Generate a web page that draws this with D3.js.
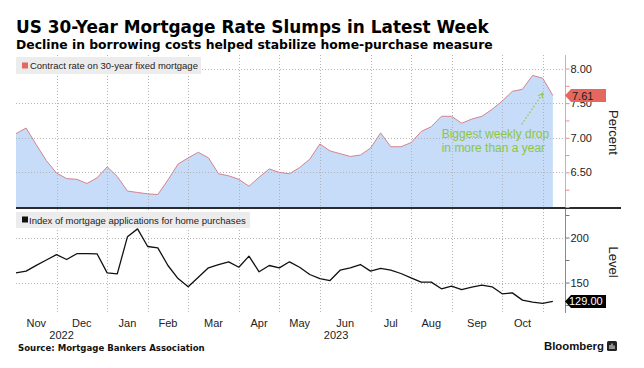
<!DOCTYPE html>
<html>
<head>
<meta charset="utf-8">
<script src="https://cdn.jsdelivr.net/npm/d3@7"></script>
<style>
  body { margin: 0; background: #fff; }
  svg { display: block; }
</style>
</head>
<body>
<div id="wrapper"></div>
<script>
// weekly MBA data, week ending Friday
const firstWeek = new Date(2022, 9, 28);
const afterLastWeek = new Date(2023, 10, 4);

const contractRate = [
  7.06, 7.14, 6.90, 6.67, 6.49, 6.41, 6.40, 6.34, 6.42, 6.58,
  6.44, 6.23, 6.21, 6.19, 6.18, 6.39, 6.62, 6.71, 6.79, 6.71,
  6.48, 6.45, 6.40, 6.30, 6.43, 6.55, 6.50, 6.48, 6.57, 6.69,
  6.91, 6.81, 6.77, 6.73, 6.75, 6.85, 7.07, 6.87, 6.87, 6.93,
  7.09, 7.16, 7.31, 7.31, 7.21, 7.27, 7.31, 7.41, 7.53, 7.67,
  7.70, 7.90, 7.86, 7.61,
];

const purchaseIndex = [
  160.7, 162.6, 169.0, 175.0, 181.0, 175.6, 182.0, 182.0, 181.9, 160.7,
  159.6, 200.8, 209.6, 190.0, 188.5, 168.9, 154.4, 145.2, 155.9, 166.3,
  170.0, 173.0, 167.0, 179.3, 161.9, 168.9, 166.3, 173.0, 167.0, 158.9,
  154.4, 152.2, 163.7, 166.3, 170.0, 162.6, 165.6, 163.7, 160.0, 155.2,
  150.4, 150.4, 143.0, 145.9, 142.2, 144.8, 147.0, 145.2, 137.4, 138.5,
  130.4, 128.1, 126.7, 129.0,
];

const rateTicks = [6.0, 6.25, 6.5, 6.75, 7.0, 7.25, 7.5, 7.75, 8.0];
const rateLabels = [6.5, 7.0, 7.5, 8.0];
const indexTicks = [125, 150, 175, 200, 225];
const indexLabels = [150, 200];

const title = "US 30-Year Mortgage Rate Slumps in Latest Week";
const subtitle = "Decline in borrowing costs helped stabilize home-purchase measure";
const rateLegend = "Contract rate on 30-year fixed mortgage";
const indexLegend = "Index of mortgage applications for home purchases";
const source = "Source: Mortgage Bankers Association";
const noteLines = ["Biggest weekly drop", "in more than a year"];

function fitWidth(selection, targetWidth) {
  selection.each(function () {
    const node = d3.select(this);
    const size = parseFloat(node.style("font-size"));
    node.style("font-size", (size * targetWidth) / this.getComputedTextLength() + "px");
  });
}

function drawChart() {
  //* Step 1. Access data
  const weeks = d3.timeFriday.range(firstWeek, afterLastWeek);
  const dataset = weeks.map((date, i) => ({
    i,
    date,
    rate: contractRate[i],
    index: purchaseIndex[i],
  }));
  const xAccessor = (d) => d.i;
  const rateAccessor = (d) => d.rate;
  const indexAccessor = (d) => d.index;

  //* Step 2. Dimensions
  const dimensions = {
    width: 644,
    height: 368,
    left: 16,
    right: 565,
    top: { y0: 55, y1: 207 },
    bottom: { y0: 209, y1: 313 },
  };

  //* Step 3. Canvas
  const wrapper = d3
    .select("#wrapper")
    .append("svg")
    .attr("width", dimensions.width)
    .attr("height", dimensions.height)
    .style("font-family", "'Liberation Sans', Arial, sans-serif");

  //* Step 4. Scales
  const xScale = d3
    .scaleLinear()
    .domain([0, 54.2])
    .range([dimensions.left, dimensions.right]);

  const rateScale = d3
    .scaleLinear()
    .domain([6.0, 8.195])
    .range([dimensions.top.y1, dimensions.top.y0]);

  const indexScale = d3
    .scaleLinear()
    .domain([116.1, 231.7])
    .range([dimensions.bottom.y1, dimensions.bottom.y0]);

  // month boundaries: last week of each month
  const boundaries = dataset
    .filter((d, i) => i < dataset.length - 1 && d.date.getMonth() !== weeks[i + 1].getMonth())
    .map(xAccessor);

  //* Step 5. Top panel
  const areaGenerator = d3
    .area()
    .x((d) => xScale(xAccessor(d)))
    .y0(dimensions.top.y1)
    .y1((d) => rateScale(rateAccessor(d)));

  wrapper
    .append("path")
    .attr("d", areaGenerator(dataset))
    .attr("fill", "#c6dcf8");

  const grid = wrapper.append("g")
    .attr("stroke", "#b4b4b4")
    .attr("stroke-width", 1)
    .attr("stroke-dasharray", "1 2");

  grid.selectAll(".hgrid-top")
    .data(rateLabels)
    .join("line")
    .attr("x1", dimensions.left)
    .attr("x2", dimensions.right)
    .attr("y1", (d) => Math.round(rateScale(d)) + 0.5)
    .attr("y2", (d) => Math.round(rateScale(d)) + 0.5);

  grid.selectAll(".hgrid-bottom")
    .data(indexLabels)
    .join("line")
    .attr("x1", dimensions.left)
    .attr("x2", dimensions.right)
    .attr("y1", (d) => Math.round(indexScale(d)) + 0.5)
    .attr("y2", (d) => Math.round(indexScale(d)) + 0.5);

  const vgrid = boundaries.filter((b) => b > 0);
  grid.selectAll(".vgrid-top")
    .data(vgrid)
    .join("line")
    .attr("x1", (d) => Math.round(xScale(d)) + 0.5)
    .attr("x2", (d) => Math.round(xScale(d)) + 0.5)
    .attr("y1", dimensions.top.y0)
    .attr("y2", dimensions.top.y1);

  grid.selectAll(".vgrid-bottom")
    .data(vgrid)
    .join("line")
    .attr("x1", (d) => Math.round(xScale(d)) + 0.5)
    .attr("x2", (d) => Math.round(xScale(d)) + 0.5)
    .attr("y1", dimensions.bottom.y0)
    .attr("y2", dimensions.bottom.y1);

  const rateLine = d3
    .line()
    .x((d) => xScale(xAccessor(d)))
    .y((d) => rateScale(rateAccessor(d)));

  wrapper
    .append("path")
    .attr("d", rateLine(dataset))
    .attr("fill", "none")
    .attr("stroke", "#d4838e")
    .attr("stroke-width", 1);

  //* Step 6. Bottom panel
  const indexLine = d3
    .line()
    .x((d) => xScale(xAccessor(d)))
    .y((d) => indexScale(indexAccessor(d)));

  wrapper
    .append("path")
    .attr("d", indexLine(dataset))
    .attr("fill", "none")
    .attr("stroke", "#111")
    .attr("stroke-width", 1.3)
    .attr("stroke-linejoin", "round");

  // panel separator
  wrapper
    .append("rect")
    .attr("x", dimensions.left)
    .attr("y", dimensions.top.y1)
    .attr("width", 621 - dimensions.left)
    .attr("height", 2)
    .attr("fill", "#2b2b2b");

  //* Step 7. Legends
  wrapper.append("rect")
    .attr("x", dimensions.left).attr("y", 57)
    .attr("width", 185).attr("height", 17)
    .attr("fill", "#ececec");
  wrapper.append("rect")
    .attr("x", 22).attr("y", 62.5)
    .attr("width", 6).attr("height", 6)
    .attr("fill", "#e06a62");
  wrapper.append("text")
    .attr("x", 30).attr("y", 69)
    .attr("fill", "#222")
    .style("font-size", "9.5px")
    .text(rateLegend)
    .call(fitWidth, 168);

  wrapper.append("rect")
    .attr("x", dimensions.left).attr("y", 212)
    .attr("width", 234).attr("height", 16)
    .attr("fill", "#ececec");
  wrapper.append("rect")
    .attr("x", 22).attr("y", 216.5)
    .attr("width", 6).attr("height", 6)
    .attr("fill", "#111");
  wrapper.append("text")
    .attr("x", 29).attr("y", 223.5)
    .attr("fill", "#222")
    .style("font-size", "9.5px")
    .text(indexLegend)
    .call(fitWidth, 217);

  //* Step 8. Right axes
  const rateAxis = wrapper.append("g")
    .attr("transform", `translate(${dimensions.right + 0.5},0)`)
    .call(
      d3.axisRight(rateScale)
        .tickValues(rateTicks)
        .tickSize(4)
        .tickFormat((d) => (rateLabels.includes(d) ? d3.format(".2f")(d) : ""))
    );
  rateAxis.select(".domain")
    .attr("d", `M0,${dimensions.top.y0}V${dimensions.top.y1}`)
    .attr("stroke", "#eba3a3");
  rateAxis.selectAll(".tick line").attr("stroke", "#e58f8f");
  rateAxis.selectAll(".tick text")
    .attr("x", 5)
    .attr("fill", "#222")
    .style("font-size", "11px")
    .style("font-family", "'Liberation Sans', Arial, sans-serif");

  const indexAxis = wrapper.append("g")
    .attr("transform", `translate(${dimensions.right + 0.5},0)`)
    .call(
      d3.axisRight(indexScale)
        .tickValues(indexTicks)
        .tickSize(4)
        .tickFormat((d) => (indexLabels.includes(d) ? d : ""))
    );
  indexAxis.select(".domain")
    .attr("d", `M0,${dimensions.bottom.y0}V${dimensions.bottom.y1}`)
    .attr("stroke", "#8a8a8a");
  indexAxis.selectAll(".tick line").attr("stroke", "#777");
  indexAxis.selectAll(".tick text")
    .attr("x", 5)
    .attr("fill", "#222")
    .style("font-size", "11px")
    .style("font-family", "'Liberation Sans', Arial, sans-serif");

  wrapper.append("text")
    .attr("transform", `translate(609,${(rateScale(7.0) + rateScale(7.5)) / 2 + 12}) rotate(90)`)
    .attr("text-anchor", "middle")
    .attr("fill", "#222")
    .style("font-size", "13px")
    .text("Percent");

  wrapper.append("text")
    .attr("transform", `translate(609,${(indexScale(150) + indexScale(200)) / 2 + 2}) rotate(90)`)
    .attr("text-anchor", "middle")
    .attr("fill", "#222")
    .style("font-size", "13px")
    .text("Level");

  // last value tags
  const last = dataset[dataset.length - 1];
  const tagPath = (cy) =>
    `M${dimensions.right},${cy}L${dimensions.right + 6},${cy - 6.5}H606V${cy + 6.5}H${dimensions.right + 6}Z`;

  const rateY = rateScale(rateAccessor(last));
  wrapper.append("path").attr("d", tagPath(rateY)).attr("fill", "#e5685f");
  wrapper.append("text")
    .attr("x", 572).attr("y", rateY + 4)
    .attr("fill", "#1a1a1a")
    .style("font-size", "11px")
    .text(d3.format(".2f")(rateAccessor(last)));

  const indexY = indexScale(indexAccessor(last));
  wrapper.append("path").attr("d", tagPath(indexY)).attr("fill", "#000");
  wrapper.append("text")
    .attr("x", 569).attr("y", indexY + 4)
    .attr("fill", "#fff")
    .style("font-size", "11px")
    .text(d3.format(".2f")(indexAccessor(last)));

  //* Step 9. Annotation
  const green = "#8cc63f";
  wrapper.append("defs")
    .append("marker")
    .attr("id", "arrow")
    .attr("viewBox", "0 0 10 10")
    .attr("refX", 8).attr("refY", 5)
    .attr("markerWidth", 5).attr("markerHeight", 5)
    .attr("orient", "auto")
    .append("path")
    .attr("d", "M0,1L9,5L0,9")
    .attr("fill", "none")
    .attr("stroke", green)
    .attr("stroke-width", 1.5);

  const tipX = xScale(52);
  const tipY = rateScale(7.64);
  wrapper.append("line")
    .attr("x1", tipX - 21).attr("y1", tipY + 31)
    .attr("x2", tipX).attr("y2", tipY)
    .attr("stroke", green)
    .attr("stroke-width", 1.2)
    .attr("stroke-dasharray", "1.5 2")
    .attr("marker-end", "url(#arrow)");

  wrapper.append("g")
    .selectAll("text")
    .data(noteLines)
    .join("text")
    .attr("x", tipX - 101)
    .attr("y", (d, i) => tipY + 45 + i * 13.5)
    .attr("fill", green)
    .style("font-size", "12px")
    .text((d) => d);

  //* Step 10. Month & year labels
  const monthFormat = d3.timeFormat("%b");
  const months = d3.pairs(boundaries).map(([a, b]) => ({
    label: monthFormat(weeks[a + 1]),
    x: (xScale(a) + xScale(b)) / 2,
  }));
  wrapper.append("g")
    .selectAll("text")
    .data(months)
    .join("text")
    .attr("x", (d) => d.x)
    .attr("y", 327)
    .attr("text-anchor", "middle")
    .attr("fill", "#222")
    .style("font-size", "11px")
    .text((d) => d.label);

  const yearBreaks = boundaries
    .filter((b) => weeks[b + 1].getFullYear() !== weeks[b].getFullYear())
    .map((b) => xScale(b));
  const yearEdges = [dimensions.left, ...yearBreaks, dimensions.right];
  const years = Array.from(new Set(weeks.map((d) => d.getFullYear())));
  wrapper.append("g")
    .selectAll("text")
    .data(years)
    .join("text")
    .attr("x", (d, i) => (yearEdges[i] + yearEdges[i + 1]) / 2)
    .attr("y", 339)
    .attr("text-anchor", "middle")
    .attr("fill", "#222")
    .style("font-size", "11px")
    .text((d) => d);

  //* Step 11. Titles & footer
  wrapper.append("text")
    .attr("x", 16).attr("y", 33)
    .attr("fill", "#000")
    .style("font-family", "'DejaVu Sans', sans-serif")
    .style("font-weight", "bold")
    .style("font-size", "17px")
    .text(title)
    .call(fitWidth, 473);

  wrapper.append("text")
    .attr("x", 16).attr("y", 49)
    .attr("fill", "#000")
    .style("font-family", "'DejaVu Sans', sans-serif")
    .style("font-weight", "bold")
    .style("font-size", "12px")
    .text(subtitle)
    .call(fitWidth, 477);

  wrapper.append("text")
    .attr("x", 18).attr("y", 351)
    .attr("fill", "#111")
    .style("font-family", "'DejaVu Sans', sans-serif")
    .style("font-weight", "bold")
    .style("font-size", "9px")
    .text(source)
    .call(fitWidth, 187);

  wrapper.append("text")
    .attr("x", 544).attr("y", 350)
    .attr("fill", "#111")
    .style("font-weight", "bold")
    .style("font-size", "11px")
    .text("Bloomberg")
    .call(fitWidth, 60);

  const logo = wrapper.append("g").attr("transform", "translate(607,341)");
  logo.append("rect")
    .attr("width", 10).attr("height", 10).attr("rx", 1.5)
    .attr("fill", "#222");
  logo.selectAll("line")
    .data([3, 5, 7])
    .join("line")
    .attr("x1", (d) => d).attr("x2", (d) => d)
    .attr("y1", (d, i) => [4, 2.5, 4.5][i]).attr("y2", 8)
    .attr("stroke", "#fff")
    .attr("stroke-width", 1);
}

drawChart();
</script>
</body>
</html>
